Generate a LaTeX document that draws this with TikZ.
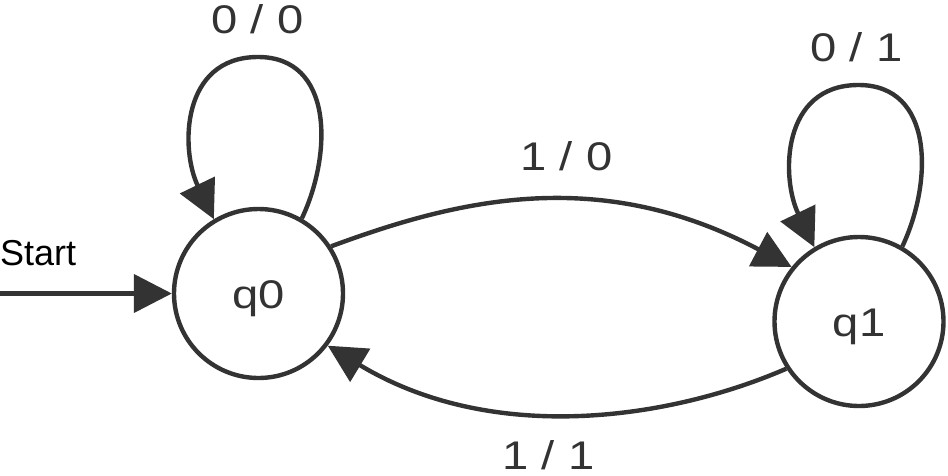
\documentclass[tikz,border=0pt]{standalone}
\usepackage{fontspec}
\setmainfont{Liberation Sans}
\newfontfamily\lblfont[FakeStretch=1.18]{Liberation Sans}
\usetikzlibrary{arrows.meta,calc}
\definecolor{ink}{HTML}{333333}
\begin{document}
\begin{tikzpicture}[x=1pt,y=-1pt,
  state/.style={circle,draw=ink,line width=4.4pt,minimum size=169pt,inner sep=0pt,
    font=\lblfont\fontsize{40}{48}\selectfont,text=ink,text height=29pt,text depth=0pt},
  conn/.style={draw=ink,line width=4.4pt,-{Triangle[length=38pt,width=38pt]}},
  lbl/.style={font=\lblfont\fontsize{40}{48}\selectfont,text=ink,inner sep=0pt,anchor=base}]
\useasboundingbox (0,0) rectangle (948,475);
\node[state] (q0) at (258.5,293.5) {q0};
\node[state] (q1) at (859,321.5) {q1};
\node[font=\fontsize{36}{43}\selectfont,anchor=base west,inner sep=0pt,text=black] (st) at (0,265) {Start};
\coordinate (s0) at (0,293.5);
\draw[conn] (s0) -- (q0.west);
% self loops
\draw[conn] (q0.60) .. controls ($(q0)+(74,-140)$) and ($(q0)+(75,-236.5)$) .. ($(q0)+(-0.5,-236.5)$)
  .. controls ($(q0)+(-78,-236.5)$) and ($(q0)+(-78,-143.5)$) .. (q0.121);
\draw[conn] (q1.60) .. controls ($(q1)+(74,-140)$) and ($(q1)+(75,-236.5)$) .. ($(q1)+(-0.5,-236.5)$)
  .. controls ($(q1)+(-78,-236.5)$) and ($(q1)+(-78,-143.5)$) .. (q1.121);
% transitions
\draw[conn] (q0.33) .. controls (455.2,200.5) and (597.5,164) .. (q1.141);
\draw[conn] (q1.213.5) .. controls (666,420.7) and (491,444.4) .. (q0.-37.4);
% labels
\node[lbl] (l00) at (257.5,33.5) {0 / 0};
\node[lbl] (l01) at (856.5,61.7) {0 / 1};
\node[lbl] (l10) at (566.5,170.7) {1 / 0};
\node[lbl] (l11) at (548.5,469) {1 / 1};
\end{tikzpicture}
\end{document}
